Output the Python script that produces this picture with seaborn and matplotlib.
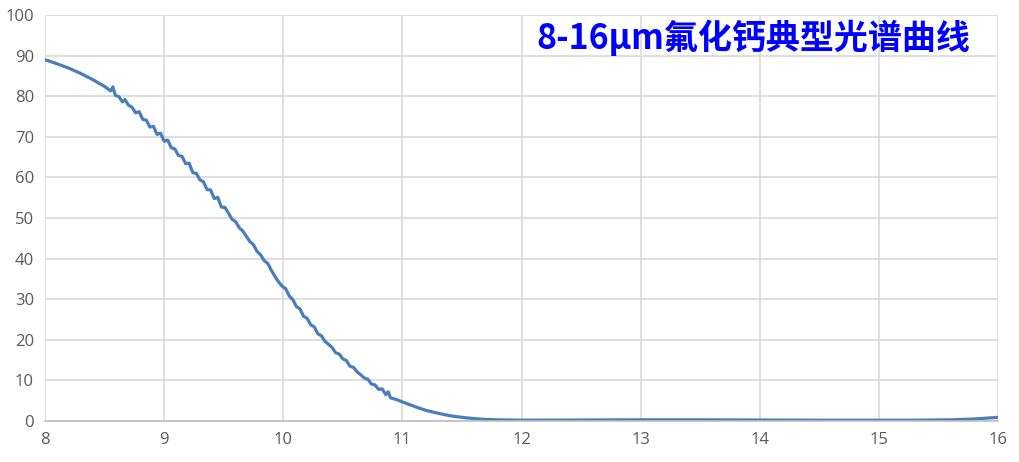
import matplotlib
matplotlib.use("Agg")
import matplotlib.pyplot as plt
import seaborn as sns
import pandas as pd

# wavelength (um) and transmittance (%)
wavelength = [
    8.00, 8.10, 8.20, 8.30, 8.40, 8.50, 8.55, 8.57, 8.59, 8.62, 8.65, 8.67, 8.70,
    8.73, 8.76, 8.79, 8.82, 8.85, 8.88, 8.91, 8.94, 8.97, 9.00, 9.03, 9.06, 9.09,
    9.12, 9.15, 9.18, 9.21, 9.24, 9.27, 9.30, 9.33, 9.36, 9.39, 9.42, 9.45, 9.48,
    9.51, 9.54, 9.57, 9.60, 9.63, 9.66, 9.69, 9.72, 9.75, 9.78, 9.81, 9.84, 9.87,
    9.90, 9.93, 9.96, 9.99, 10.02, 10.05, 10.08, 10.11, 10.14, 10.17, 10.20, 10.23,
    10.26, 10.29, 10.32, 10.35, 10.38, 10.41, 10.44, 10.47, 10.50, 10.53, 10.56,
    10.59, 10.62, 10.65, 10.68, 10.71, 10.74, 10.77, 10.80, 10.83, 10.86, 10.88,
    10.90, 10.95, 11.00, 11.10, 11.20, 11.30, 11.40, 11.50, 11.60, 11.70, 11.80,
    11.90, 12.00, 12.50, 13.00, 13.50, 14.00, 14.50, 15.00, 15.30, 15.60, 15.80,
    16.00,
]
transmittance = [
    89.0, 88.0, 86.9, 85.6, 84.1, 82.4, 81.3, 82.3, 80.2, 79.9, 78.6, 79.2, 77.8,
    77.3, 75.9, 76.2, 74.3, 74.1, 72.4, 72.6, 70.6, 70.9, 68.9, 69.2, 67.3, 67.0,
    65.4, 65.2, 63.4, 63.5, 61.2, 61.0, 59.4, 58.9, 57.0, 56.9, 54.8, 55.1, 52.7,
    52.6, 51.2, 49.7, 49.1, 47.6, 46.8, 45.5, 44.2, 43.4, 41.8, 40.9, 39.5, 38.8,
    37.1, 35.6, 34.3, 33.2, 32.6, 30.8, 29.9, 28.2, 27.6, 25.8, 25.3, 23.7, 23.2,
    21.5, 21.0, 19.6, 18.9, 18.1, 16.8, 16.5, 15.3, 14.9, 13.5, 13.2, 12.1, 11.4,
    10.6, 10.3, 9.1, 8.9, 7.8, 7.9, 6.5, 7.2, 5.7, 5.3, 4.7, 3.6, 2.6, 1.9, 1.3,
    0.9, 0.6, 0.4, 0.3, 0.25, 0.2, 0.25, 0.3, 0.3, 0.25, 0.2, 0.2, 0.2, 0.3, 0.5,
    0.9,
]

df = pd.DataFrame({"wavelength": wavelength, "transmittance": transmittance})

sns.set_style("white")
plt.rcParams["font.family"] = ["Noto Sans CJK SC", "DejaVu Sans"]

fig = plt.figure(figsize=(10.19, 4.62), dpi=100)
ax = fig.add_axes([0.0442, 0.0887, 0.9352, 0.8788])

sns.lineplot(data=df, x="wavelength", y="transmittance", ax=ax,
             color="#4a7ebb", linewidth=2.3)

ax.set_xlim(8, 16)
ax.set_ylim(0, 100)
ax.set_xticks(range(8, 17))
ax.set_yticks(range(0, 101, 10))
ax.grid(True, color="#d9d9d9", linewidth=1.2)
ax.set_axisbelow(True)
for side in ["top", "right", "left"]:
    ax.spines[side].set_visible(False)
ax.spines["bottom"].set_color("#bfbfbf")
ax.spines["bottom"].set_linewidth(1.2)
ax.tick_params(axis="both", length=0, colors="#595959", pad=8)
for lab in ax.get_xticklabels() + ax.get_yticklabels():
    lab.set_fontfamily("Open Sans")
    lab.set_fontsize(12)
ax.set_xlabel("")
ax.set_ylabel("")

ax.text(0.743, 0.943, "8-16μm氟化钙典型光谱曲线", transform=ax.transAxes,
        ha="center", va="center", fontsize=24.5, fontweight="bold", color="#0000ff")

fig.savefig("out.png", dpi=100)
